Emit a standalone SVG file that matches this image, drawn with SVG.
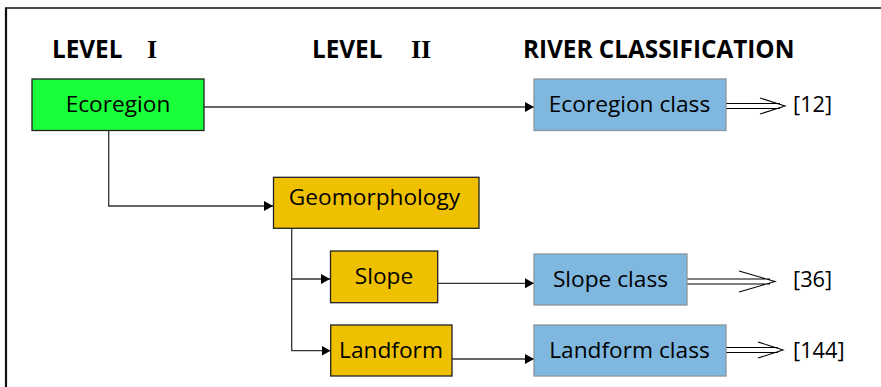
<svg xmlns="http://www.w3.org/2000/svg" width="881" height="387" viewBox="0 0 881 387">
<style>
.hdr{font-family:"Open Sans","Liberation Sans",sans-serif;font-weight:bold;font-size:24.3px;fill:#000}
.rom{font-family:"Liberation Serif","Times New Roman",serif;font-weight:bold;font-size:26px;fill:#000}
.lbl{font-family:"Open Sans","Liberation Sans",sans-serif;font-size:22.7px;fill:#000;text-anchor:middle}
.num{font-family:"Open Sans","Liberation Sans",sans-serif;font-size:21.8px;fill:#000}
.green{fill:#19ff3a;stroke:#222;stroke-width:1.3}
.gold{fill:#efc000;stroke:#222;stroke-width:1.3}
.blue{fill:#7fb7df;stroke:#8a959c;stroke-width:1.3}
.conn{fill:none;stroke:#333;stroke-width:1.3}
.dbl{fill:none;stroke:#000;stroke-width:1.1}
</style>
<defs>
<marker id="ah" markerWidth="10" markerHeight="10" refX="9" refY="5" orient="auto" markerUnits="userSpaceOnUse">
<path d="M0,0 L9,5 L0,10 Z" fill="#000"/>
</marker>
</defs>
<rect x="0" y="0" width="881" height="387" fill="#fff"/>
<g id="frame">
<line x1="5" y1="8" x2="881" y2="8" stroke="#111" stroke-width="1.6"/>
<line x1="6" y1="8" x2="6" y2="387" stroke="#111" stroke-width="2.2"/>
</g>
<g id="headers">
<text class="hdr" x="52" y="58">LEVEL</text>
<text class="rom" x="147" y="58">I</text>
<text class="hdr" x="312" y="58">LEVEL</text>
<text class="rom" x="411" y="58">II</text>
<text class="hdr" x="523" y="58">RIVER CLASSIFICATION</text>
</g>
<g id="connectors">
<line class="conn" x1="204" y1="107" x2="534" y2="107" marker-end="url(#ah)"/>
<polyline class="conn" points="108.7,130 108.7,206 273,206" marker-end="url(#ah)"/>
<polyline class="conn" points="291.7,228 291.7,350.7 330.5,350.7" marker-end="url(#ah)"/>
<line class="conn" x1="291.7" y1="279" x2="330" y2="279" marker-end="url(#ah)"/>
<line class="conn" x1="437.7" y1="283.3" x2="534" y2="283.3" marker-end="url(#ah)"/>
<line class="conn" x1="452" y1="359" x2="534" y2="359" marker-end="url(#ah)"/>
</g>
<g id="outputs">
<path class="dbl" d="M726,103.5 H780 M726,108.5 H780 M760,98 L785,106 L760,114"/>
<path class="dbl" d="M687,279 H770 M687,284 H770 M739,271 L775,281.5 L739,292"/>
<path class="dbl" d="M726,347.5 H778 M726,352.5 H778 M758,342 L783,350 L758,358"/>
</g>
<g id="n-ecoregion">
<rect class="green" x="32" y="79" width="172" height="51.5"/>
<text class="lbl" x="118" y="111.5">Ecoregion</text>
</g>
<g id="n-ecoregion-class">
<rect class="blue" x="534" y="79" width="192" height="51.5"/>
<text class="lbl" x="629.5" y="111.5">Ecoregion class</text>
</g>
<g id="n-num12"><text class="num" x="793" y="112">[12]</text></g>
<g id="n-geomorphology">
<rect class="gold" x="273.5" y="177.3" width="205.5" height="51"/>
<text class="lbl" x="374.5" y="205">Geomorphology</text>
</g>
<g id="n-slope">
<rect class="gold" x="330.5" y="251" width="107.2" height="51.7"/>
<text class="lbl" x="384" y="284">Slope</text>
</g>
<g id="n-slope-class">
<rect class="blue" x="534" y="254" width="153" height="51"/>
<text class="lbl" x="610.5" y="286.7">Slope class</text>
</g>
<g id="n-num36"><text class="num" x="793" y="287">[36]</text></g>
<g id="n-landform">
<rect class="gold" x="330.7" y="325" width="121.3" height="51"/>
<text class="lbl" x="391" y="358">Landform</text>
</g>
<g id="n-landform-class">
<rect class="blue" x="534" y="325" width="192" height="51"/>
<text class="lbl" x="629.5" y="358">Landform class</text>
</g>
<g id="n-num144"><text class="num" x="793" y="358">[144]</text></g>
</svg>
